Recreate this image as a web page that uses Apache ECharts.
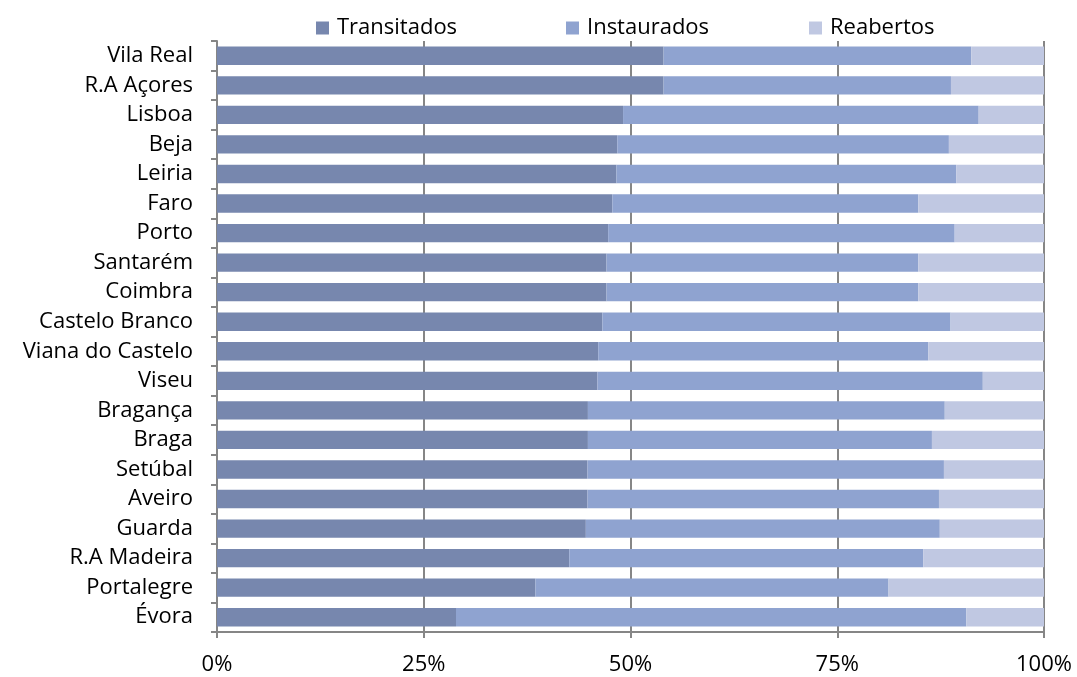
<!DOCTYPE html>
<html><head><meta charset="utf-8">
<script src="https://cdn.jsdelivr.net/npm/echarts@6/dist/echarts.min.js"></script>
<style>html,body{margin:0;padding:0;background:#fff}#c{width:1077px;height:677px}</style>
</head><body><div id="c"></div>
<script>
const categories = ["Vila Real","R.A Açores","Lisboa","Beja","Leiria","Faro","Porto","Santarém","Coimbra","Castelo Branco","Viana do Castelo","Viseu","Bragança","Braga","Setúbal","Aveiro","Guarda","R.A Madeira","Portalegre","Évora"];
const transitados = [54.0,54.0,49.1,48.4,48.3,47.8,47.3,47.1,47.1,46.6,46.1,46.0,44.85,44.85,44.8,44.8,44.6,42.6,38.5,28.9];
const instaurados = [37.2,34.75,43.0,40.1,41.1,37.0,41.9,37.7,37.7,42.1,39.9,46.6,43.15,41.6,43.1,42.5,42.8,42.8,42.7,61.7];
const reabertos = [8.8,11.25,7.9,11.5,10.6,15.2,10.8,15.2,15.2,11.3,14.0,7.4,12.0,13.55,12.1,12.7,12.6,14.6,18.8,9.4];
const xTicks = ["0%","25%","50%","75%","100%"];

const FONT = "Open Sans";
const chart = echarts.init(document.getElementById('c'));
const names = ["Transitados","Instaurados","Reabertos"];
const colors = ["#7787AE","#8FA3D0","#C0C8E2"];
const vals = [transitados, instaurados, reabertos];
const legendLefts = [311, 561, 804];
chart.setOption({
  animation: false,
  textStyle: {fontFamily: FONT},
  legend: names.map((n,i)=>({
    data:[n], left: legendLefts[i], top: 12, itemWidth: 13, itemHeight: 13, itemGap: 6,
    icon: 'rect', textStyle:{fontSize: 22, color:'#000', fontFamily: FONT, padding:[0,0,0,3]}
  })),
  grid: {left: 217, right: 33, top: 41, bottom: 45, containLabel: false},
  xAxis: {
    type: 'value', min: 0, max: 100, interval: 25,
    axisLabel: {formatter: v => xTicks[v/25], fontSize: 22, color:'#000', margin: 22, fontFamily: FONT},
    axisLine: {show: true, lineStyle: {color:'#868686', width: 2}},
    axisTick: {show: true, length: 6, lineStyle: {color:'#868686', width: 2}},
    splitLine: {show: true, lineStyle: {color:'#868686', width: 2}}
  },
  yAxis: {
    type: 'category', data: categories, inverse: true,
    axisLabel: {fontSize: 22, color:'#000', margin: 24, fontFamily: FONT},
    axisLine: {show: true, lineStyle: {color:'#868686', width: 2}},
    axisTick: {show: true, length: 6, alignWithLabel: false, lineStyle: {color:'#868686', width: 2}}
  },
  series: names.map((n,i)=>({
    name: n, type: 'bar', stack: 'total', data: vals[i], barWidth: '62%',
    itemStyle: {color: colors[i]}
  }))
});
</script></body></html>
